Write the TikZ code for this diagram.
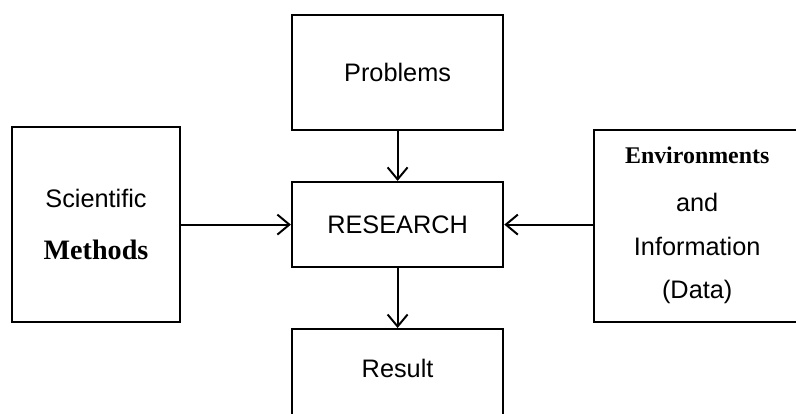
\documentclass[tikz,border=0pt]{standalone}
\usepackage{fontspec}
\setmainfont{Liberation Sans}
\newfontfamily\oldserif{Liberation Serif}
\usetikzlibrary{arrows.meta,positioning}

\begin{document}
\begin{tikzpicture}[>={Straight Barb[length=3mm,width=5mm]},
  every node/.style={align=center,font=\fontsize{18}{31}\selectfont},
  box/.style={draw,line width=1.7pt,minimum width=5.275cm},
  flow/.style={->,line width=1.4pt}]
  \useasboundingbox (0,0) rectangle (19.9,10.325);
  \clip (0,0) rectangle (19.9,10.325);
  % middle column
  \node[box,minimum height=2.875cm] (problems) at (9.94,8.51) {Problems};
  \node[box,minimum height=2.125cm] (research) at (9.94,4.71) {RESEARCH};
  \node[box,minimum height=3cm,anchor=north,
    label={[anchor=center,yshift=-1cm]north:Result}] (result) at (9.94,2.125) {};
  % side boxes
  \node[box,minimum width=4.2cm,minimum height=4.875cm,font=\fontsize{18}{37}\selectfont] (sci) at (2.4,4.71)
    {Scientific\\{\oldserif\bfseries\fontsize{20}{37}\selectfont Methods}};
  \node[box,minimum width=5.15cm,minimum height=4.8cm] (env) at (17.43,4.68)
    {{\oldserif\bfseries\fontsize{17}{31}\selectfont Environments}\\[3pt]and\\Information\\(Data)};
  % connectors
  \draw[flow] (problems) -- (research);
  \draw[flow] (research) -- (result);
  \draw[flow] (sci.east |- research) -- (research.west);
  \draw[flow] (env.west |- research) -- (research.east);
\end{tikzpicture}
\end{document}
